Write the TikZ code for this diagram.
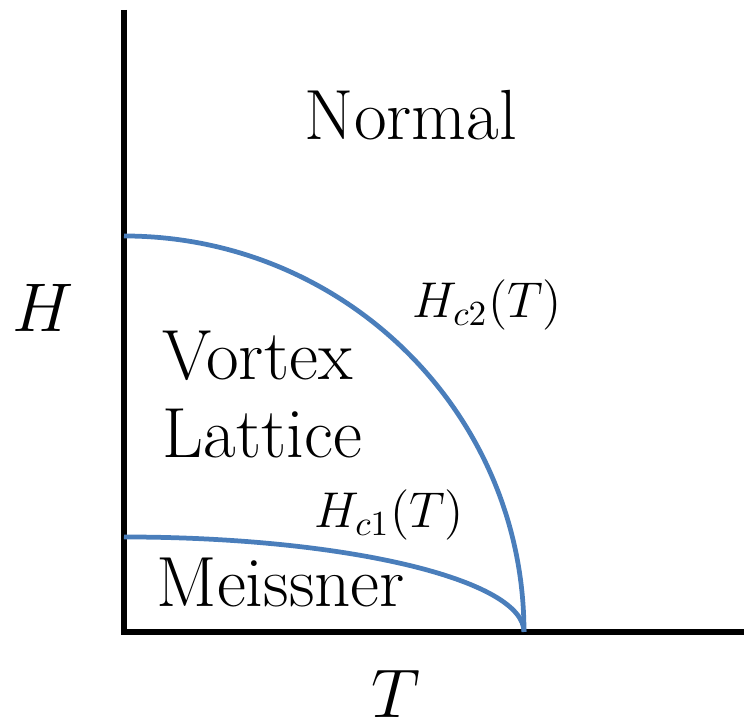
\documentclass[tikz,border=0pt]{standalone}
\usepackage{fix-cm}
\usepackage{amsmath}
\usepackage{tikz}
\usetikzlibrary{
  arrows.meta,
  positioning,
  calc
}
\definecolor{pdCurve}{HTML}{4A7EBB}
\definecolor{pdAxis}{HTML}{000000}
\tikzset{
  axisline/.style={line width=1.45pt, pdAxis},
  critline/.style={line width=1.35pt, pdCurve},
  region/.style={font=\fontsize{20.2}{22.2}\selectfont, inner sep=0pt, align=left},
  axislabel/.style={font=\fontsize{19.6}{22.2}\selectfont, inner sep=0pt},
  curvelabel/.style={font=\fontsize{14.3}{16}\selectfont, inner sep=0pt}
}

\begin{document}
\begin{tikzpicture}[x=0.01cm, y=0.01cm]
  \useasboundingbox (0,0) rectangle (744,728);
  % axes
  \coordinate (origin) at (124,96);
  \coordinate (htop) at (124,718);
  \coordinate (tend) at (744,96);
  \coordinate (tc) at (524,96);
  \draw[axisline] (htop) -- (origin) -- (tend);
  % critical fields
  \coordinate (hc2zero) at (124,492);
  \coordinate (hc1zero) at (124,191);
  \draw[critline] (hc2zero) arc[start angle=90, end angle=0, x radius=400, y radius=396];
  \draw[critline] (hc1zero) arc[start angle=90, end angle=0, x radius=400, y radius=95];
  % labels
  \node[axislabel, anchor=base west] (hlab) at (12,396) {$H$};
  \node[axislabel, anchor=base] (tlab) at (396,10) {$T$};
  \node[region, anchor=base] (normal) at (411,588) {Normal};
  \node[region, anchor=base west] (vortex) at (162,270) {Vortex\\Lattice};
  \node[region, anchor=base west] (meissner) at (156,121) {Meissner};
  \node[curvelabel, anchor=base west] (hc2lab) at (412,410) {$H_{c2}(T)$};
  \node[curvelabel, anchor=base west] (hc1lab) at (314,200) {$H_{c1}(T)$};
\end{tikzpicture}
\end{document}
